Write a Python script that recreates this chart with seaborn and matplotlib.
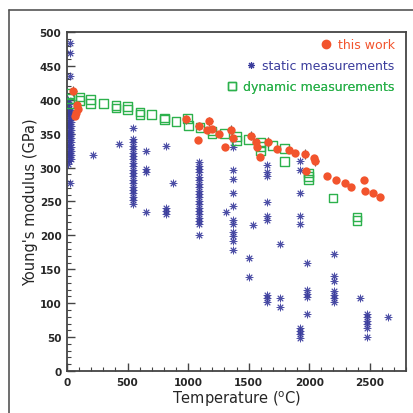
import numpy as np
import pandas as pd
import matplotlib
matplotlib.use('Agg')
import matplotlib.pyplot as plt
from matplotlib.lines import Line2D
import seaborn as sns

# --- data (temperature in C, modulus in GPa) ---
work_T = [52, 85, 95, 75, 70, 985, 1090, 1085, 1155, 1176, 1198, 1259, 1308, 1353,
          1375, 1523, 1562, 1573, 1595, 1664, 1738, 1837, 1879, 1967, 2036, 2050,
          1975, 2146, 2223, 2298, 2347, 2449, 2463, 2531, 2581]
work_E = [413, 392, 387, 380, 376, 371, 362, 341, 356, 368, 357, 350, 331, 356,
          343, 347, 337, 331, 315, 338, 328, 326, 321, 320, 314, 310,
          295, 287, 282, 277, 272, 281, 265, 262, 256]
# points that carry error bars
err_idx = [0, 5, 9, 13, 15, 19, 23, 25]

static_T = ([20] * 15 + [35] * 13 + [10] * 8 + [25] * 4
            + [212, 432]
            + [543] * 21
            + [650] * 4 + [818] * 4 + [873]
            + [1094] * 21
            + [1314]
            + [1369] * 12
            + [1507] * 2 + [1535]
            + [1650] * 9 + [1760] * 3
            + [1926] * 9 + [1981] * 5
            + [2201] * 7 + [2421]
            + [2477] * 6 + [2647])
static_E = ([310, 316, 322, 328, 334, 340, 346, 352, 358, 364, 370, 376, 382, 388, 394]
            + [313, 319, 325, 331, 337, 343, 349, 355, 361, 367, 373, 379, 385]
            + [305, 320, 335, 350, 365, 380, 395, 400]
            + [483, 469, 435, 277]
            + [318, 335]
            + [359, 342, 337, 332, 327, 322, 317, 312, 307, 302, 297, 292, 287, 282,
               277, 272, 267, 262, 257, 252, 247]
            + [325, 298, 293, 234] + [332, 241, 236, 232] + [277]
            + [361, 308, 303, 298, 293, 286, 281, 276, 271, 266, 261, 256, 251, 246,
               241, 236, 231, 226, 221, 217, 200]
            + [235]
            + [342, 331, 296, 283, 263, 244, 222, 217, 205, 199, 192, 179]
            + [166, 139] + [215]
            + [304, 293, 287, 249, 229, 223, 112, 107, 102] + [187, 107, 94]
            + [310, 296, 263, 229, 217, 64, 59, 55, 48] + [159, 120, 114, 109, 84]
            + [173, 140, 133, 118, 112, 107, 102] + [107]
            + [84, 79, 74, 69, 64, 50] + [79])

dyn_T = [25, 19, 25, 107, 107, 196, 196, 300, 405, 405, 498, 498, 603, 603, 700,
         802, 802, 901, 994, 1003, 1099, 1198, 1198, 1298, 1397, 1397, 1501, 1595,
         1595, 1595, 1700, 1796, 1796, 1994, 1994, 1994, 2196, 2394, 2394]
dyn_E = [409, 402, 395, 404, 399, 400, 395, 395, 391, 388, 390, 386, 382, 378, 378,
         373, 371, 368, 372, 362, 359, 354, 350, 350, 346, 340, 341, 337,
         331, 325, 332, 328, 309, 292, 287, 282, 255, 227, 222]

ORANGE = '#f2542d'
BLUE = '#3a3c9c'
GREEN = '#2cb14c'

sns.set_style('white')
plt.rcParams['font.family'] = ['DejaVu Sans']

fig = plt.figure(figsize=(4.13, 4.14), dpi=100)
ax = fig.add_axes([0.1622, 0.1014, 0.821, 0.819])

static_df = pd.DataFrame({'T': static_T, 'E': static_E})
dyn_df = pd.DataFrame({'T': dyn_T, 'E': dyn_E})
work_df = pd.DataFrame({'T': work_T, 'E': work_E})

sns.scatterplot(data=static_df, x='T', y='E', marker=(8, 2, 0), color=BLUE,
                s=24, linewidth=0.7, alpha=0.9, ax=ax, zorder=2)
sns.scatterplot(data=dyn_df, x='T', y='E', marker='s', facecolor='none',
                edgecolor=GREEN, s=40, linewidth=1.0, ax=ax, zorder=3)
err = work_df.iloc[err_idx]
ax.errorbar(err['T'], err['E'], xerr=28, yerr=7, fmt='none', ecolor='#555555',
            elinewidth=0.8, capsize=0, zorder=3)
sns.scatterplot(data=work_df, x='T', y='E', marker='o', color=ORANGE,
                edgecolor=ORANGE, s=36, linewidth=0, ax=ax, zorder=4)

ax.set_xlim(0, 2800)
ax.set_ylim(0, 500)
ax.set_xticks(np.arange(0, 2501, 500))
ax.set_yticks(np.arange(0, 501, 50))
ax.set_xticks(np.arange(0, 2801, 100), minor=True)
ax.set_yticks(np.arange(0, 501, 10), minor=True)
ax.tick_params(which='major', direction='in', length=6, width=1, color='#444444',
               labelsize=7.5, pad=4, top=False, right=False, bottom=True, left=True)
ax.tick_params(which='minor', direction='in', length=3, width=0.8, color='#444444',
               top=False, right=False, bottom=True, left=True)
for lab in ax.get_xticklabels() + ax.get_yticklabels():
    lab.set_fontweight('bold')
for sp in ax.spines.values():
    sp.set_color('#444444')
    sp.set_linewidth(1.3)

ax.set_xlabel('Temperature ($^{\\mathrm{o}}$C)', fontsize=10.5, labelpad=1)
ax.set_ylabel("Young's modulus (GPa)", fontsize=10.5, labelpad=1)

entries = [
    ('this work', Line2D([], [], marker='o', ls='none', color=ORANGE, markersize=6), ORANGE, 0.962),
    ('static measurements', Line2D([], [], marker=(8, 2, 0), ls='none', color=BLUE,
                                   markersize=5, markeredgewidth=0.8), BLUE, 0.900),
    ('dynamic measurements', Line2D([], [], marker='s', ls='none', markerfacecolor='none',
                                    markeredgecolor=GREEN, markersize=6), GREEN, 0.838),
]
for label, handle, col, ypos in entries:
    leg = ax.legend(handles=[handle], labels=[label], loc='center right',
                    bbox_to_anchor=(0.966, ypos), frameon=False, labelcolor=col,
                    fontsize=9, handlelength=0.8, handletextpad=0.5,
                    borderpad=0, borderaxespad=0)
    ax.add_artist(leg)

# outer canvas frame (top and left edges visible)
fig.add_artist(Line2D([9 / 413, 1.0], [1 - 11 / 414, 1 - 11 / 414],
                      transform=fig.transFigure, color='#555555', lw=1.2))
fig.add_artist(Line2D([9 / 413, 9 / 413], [0.0, 1 - 11 / 414],
                      transform=fig.transFigure, color='#555555', lw=1.2))

fig.savefig('out.png', dpi=100)
plt.close(fig)
